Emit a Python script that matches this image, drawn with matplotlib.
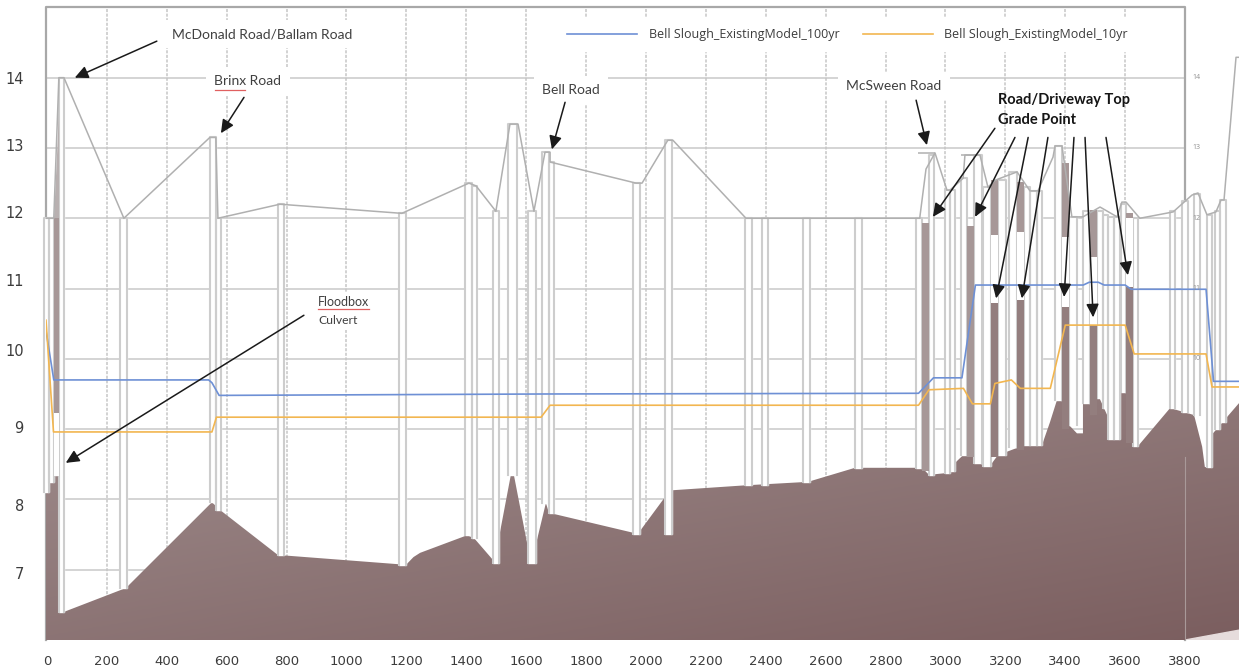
import numpy as np
import matplotlib
matplotlib.use("Agg")
import matplotlib.pyplot as plt

# ground profile (station, elevation)
ground_x = [-3, 7, 7, 23, 23, 40, 40, 57, 264, 551, 578, 771, 1199, 1224, 1246, 1403, 1426, 1489, 1489, 1509, 1509,
            1549, 1559, 1603, 1606, 1633, 1636, 1666, 1676, 1973, 2063, 2063, 2087, 2087, 2330, 2541, 2698, 2922,
            2945, 3015, 3032, 3059, 3095, 3095, 3149, 3175, 3262, 3322, 3349, 3372, 3412, 3412, 3439, 3459, 3459,
            3509, 3543, 3563, 3583, 3586, 3603, 3626, 3643, 3750, 3830, 3857, 3866, 3890, 3893, 3980]
ground_z = [8.1, 8.1, 8.25, 8.25, 8.33, 8.33, 6.4, 6.4, 6.74, 7.96, 7.85, 7.21, 7.07, 7.18, 7.24, 7.49, 7.45, 7.14, 7.1, 7.1, 7.45,
            8.35, 8.35, 7.38, 7.1, 7.1, 7.42, 7.95, 7.81, 7.51, 8.03, 7.51, 7.51, 8.13, 8.2, 8.25, 8.45, 8.45,
            8.35, 8.38, 8.52, 8.63, 8.63, 8.52, 8.48, 8.63, 8.77, 8.77, 9.1, 9.41, 9.41, 9.06, 8.94, 8.94, 9.37,
            9.49, 9.17, 8.86, 8.86, 9.53, 9.53, 8.76, 8.76, 9.3, 9.2, 8.75, 8.46, 8.46, 8.94, 9.37]

# road top line
road_x = [-3, 23, 40, 57, 257, 544, 564, 571, 778, 1185, 1409, 1433, 1499, 1546, 1573, 1626, 1663, 1680, 1680, 1967, 1987,
          2073, 2090, 2334, 2914, 2935, 2965, 3005, 3015, 3059, 3065, 3115, 3142, 3165, 3239, 3282, 3309, 3359, 3366,
          3389, 3422, 3459, 3516, 3573, 3589, 3603, 3649, 3760, 3823, 3843, 3873, 3903, 3920, 3930, 3970, 3980]
road_z = [12, 12, 14, 14, 12, 13.15, 13.15, 12, 12.2, 12.07, 12.5, 12.46, 12.1, 13.34, 13.34, 12.1, 12.94, 12.94, 12.8, 12.5, 12.5,
          13.11, 13.11, 12, 12, 12.7, 12.93, 12.4, 12.4, 12.57, 12.9, 12.9, 12.44, 12.54, 12.66, 12.39, 12.39, 12.87, 13.03,
          13.03, 12.02, 12.02, 12.16, 12.02, 12.23, 12.23, 12, 12.09, 12.33, 12.36, 12.05, 12.09, 12.26, 12.26, 14.29, 14.29]

# water surfaces
blue_x = [-3, 23, 540, 551, 575, 1660, 2910, 2960, 3055, 3100, 3460, 3480, 3510, 3530, 3600, 3620, 3870, 3895, 3980]
blue_z = [10.4, 9.7, 9.7, 9.66, 9.48, 9.5, 9.51, 9.73, 9.73, 11.05, 11.05, 11.09, 11.09, 11.05, 11.05, 10.99, 10.99, 9.68, 9.68]
orange_x = [-3, 22, 551, 566, 1650, 1680, 2910, 2945, 3060, 3090, 3150, 3165, 3220, 3250, 3350, 3400, 3600, 3630, 3870, 3890, 3980]
orange_z = [10.55, 8.96, 8.96, 9.17, 9.17, 9.34, 9.34, 9.56, 9.58, 9.36, 9.36, 9.65, 9.7, 9.58, 9.58, 10.48, 10.48, 10.07, 10.07, 9.6, 9.6]

# white cross section strips
strip_left = [-10, 7, 40, 244, 544, 564, 771, 1175, 1396, 1419, 1489, 1539, 1606, 1653, 1676, 1957, 2063, 2330, 2387, 2524, 2698,
              2902, 2945, 2998, 3015, 3052, 3095, 3125, 3175, 3212, 3262, 3282, 3306, 3365, 3412, 3459, 3506, 3526, 3543, 3563,
              3586, 3626, 3750, 3790, 3830, 3873, 3900, 3915]
strip_right = [7, 23, 57, 267, 564, 581, 791, 1199, 1419, 1436, 1509, 1569, 1633, 1676, 1693, 1980, 2087, 2354, 2407, 2548, 2721,
               2922, 2962, 3015, 3032, 3072, 3122, 3152, 3202, 3239, 3282, 3306, 3322, 3389, 3439, 3483, 3526, 3543, 3563, 3583,
               3603, 3643, 3766, 3810, 3850, 3890, 3915, 3935]
strip_bottom = [8.1, 8.25, 6.4, 6.74, 7.96, 7.85, 7.21, 7.07, 7.49, 7.45, 7.1, 8.35, 7.1, 7.95, 7.81, 7.51, 7.51, 8.2, 8.2, 8.25, 8.45,
                8.45, 8.35, 8.38, 8.4, 8.63, 8.52, 8.48, 8.63, 8.75, 8.77, 8.77, 8.77, 9.41, 9.06, 9.37, 9.45, 9.3, 8.86, 8.86,
                9.53, 8.76, 9.3, 9.25, 9.2, 8.46, 9.0, 9.1]
strip_top = [12, 12, 14, 12, 13.15, 12, 12.2, 12.07, 12.5, 12.46, 12.1, 13.34, 12.1, 12.94, 12.8, 12.5, 13.11, 12, 12, 12, 12,
             12, 12.9, 12.4, 12.4, 12.57, 12.9, 12.44, 12.54, 12.66, 12.45, 12.39, 12.39, 13.03, 12.02, 12.1, 12.1, 12.05, 12.02, 12.02,
             12.2, 12, 12.1, 12.25, 12.35, 12.05, 12.1, 12.26]

# road/driveway columns, brown part on top and brown part down to the ground
col_left = [23, 2922, 3072, 3152, 3239, 3389, 3483, 3603]
col_right = [40, 2945, 3095, 3175, 3262, 3412, 3506, 3626]
col_top = [12.0, 11.93, 11.89, 12.54, 12.51, 12.79, 12.12, 12.07]
col_gap_top = [9.23, 8.4, 8.6, 11.76, 11.8, 11.73, 11.45, 12.0]
col_gap_bottom = [8.33, 8.4, 8.6, 10.79, 10.84, 10.74, 10.48, 11.02]
col_ground = [8.33, 8.4, 8.6, 8.6, 8.7, 9.0, 9.2, 8.8]

ytick_pos = [14.0, 13.04, 12.09, 11.12, 10.12, 9.03, 7.92, 6.95]
ytick_labels = ["14", "13", "12", "11", "10", "9", "8", "7"]
xticks = list(range(0, 3801, 200))
grid_y = [7, 8, 9, 10, 11, 12, 13, 14]

fig = plt.figure(figsize=(12.39, 6.68), dpi=100)
ax = fig.add_axes([46 / 1239, 28 / 668, 1193 / 1239, 634 / 668])
plt.rcParams['font.family'] = ['Open Sans', 'DejaVu Sans']

# grid only runs up to the 3800 station
ax.hlines(grid_y, 0, 3800, color="#c9c9c9", lw=1.1, zorder=1)
ax.vlines(xticks[1:], 6, 15, color="#c6c6c6", lw=1.1, ls=(0, (2, 1)), zorder=1)
ax.plot([-3, -3, 3800, 3800], [6, 15.0, 15.0, 6], color="#a8a8a8", lw=1.6, zorder=1, clip_on=False)

# ground with soft gradient, lighter at the top left
xx, yy = np.meshgrid(np.linspace(0, 1, 200), np.linspace(0, 1, 200))
grad = 0.55 * yy + 0.45 * xx
cmap = matplotlib.colors.LinearSegmentedColormap.from_list("soil", ["#a08e8e", "#7b5e5f"])
poly = ax.fill_between(ground_x, ground_z, 6, color="none", zorder=2)
im = ax.imshow(grad, extent=[-3, 3980, 6, 9.6], aspect="auto", cmap=cmap, zorder=2, interpolation="bilinear")
im.set_clip_path(poly.get_paths()[0], transform=ax.transData)
ax.fill([3800, 3980, 3980], [6, 6.14, 6], color="#e6dcdc", zorder=2.2)
ax.plot([3800, 3800], [6, 8.6], color="#a99999", lw=0.8, zorder=2.2)

for x0, x1, b, t in zip(strip_left, strip_right, strip_bottom, strip_top):
    ax.fill([x0, x1, x1, x0], [b, b, t, t], color="white", zorder=3, clip_on=False)
    ax.plot([x0, x0, x1, x1], [b, t, t, b], color="#cdcdcd", lw=1.5, zorder=3.1, clip_on=False)

for x0, x1, t, g1, g2, g in zip(col_left, col_right, col_top, col_gap_top, col_gap_bottom, col_ground):
    ax.fill([x0, x1, x1, x0], [g1, g1, t, t], color="#a69797", zorder=3.3, lw=0)
    ax.fill([x0, x1, x1, x0], [g2, g2, g1, g1], color="white", zorder=3.2, lw=0)
    ax.fill([x0, x1, x1, x0], [g, g, g2, g2], color="#937e7e", zorder=3.3, lw=0)
ax.fill([23, 40, 40], [12, 12, 13.5], color="#b8b0b0", zorder=3.3, lw=0)

ax.plot(road_x, road_z, color="#b0b0b0", lw=1.1, zorder=4)
ax.hlines([12.93, 12.9], [2908, 3052], [2965, 3105], color="#b0b0b0", lw=1.1, zorder=4)

ax.plot(blue_x, blue_z, color="#6e90d5", lw=1.2, zorder=5, label="Bell Slough_ExistingModel_100yr")
ax.plot(orange_x, orange_z, color="#f2b650", lw=1.2, zorder=5, label="Bell Slough_ExistingModel_10yr")

leg = ax.legend(loc="center", bbox_to_anchor=(0.672, 0.955), ncol=2, frameon=True, framealpha=1, edgecolor="white",
                fontsize=9, handlelength=5.6, columnspacing=1.9, handletextpad=0.9, borderpad=0.8)
leg.set_zorder(6)
for t in leg.get_texts():
    t.set_color("#3c3c3c")

labels = [("McDonald Road/Ballam Road", 718, 14.62), ("Brinx Road", 671, 13.95), ("Bell Road", 1750, 13.82), ("McSween Road", 2828, 13.88)]
for txt, x, y in labels:
    ax.text(x, y, txt, fontsize=10, color="#404040", ha="center", va="center", zorder=6, family="Lato",
            bbox=dict(fc="white", ec="none", pad=6))
ax.text(905, 10.81, "Floodbox", fontsize=9, color="#404040", va="center", zorder=6, family="Lato", bbox=dict(fc="white", ec="none", pad=3))
ax.text(905, 10.55, "Culvert", fontsize=8.7, color="#404040", va="center", zorder=6, family="Lato", bbox=dict(fc="white", ec="none", pad=3))
ax.plot([905, 1075], [10.71, 10.71], color="#e06060", lw=0.9, zorder=7)
ax.plot([562, 660], [13.83, 13.83], color="#e06060", lw=0.9, zorder=7)
ax.text(3175, 13.68, "Road/Driveway Top", fontsize=10.5, fontweight="bold", color="#151515", va="center", zorder=7, family="Lato")
ax.text(3175, 13.4, "Grade Point", fontsize=10.5, fontweight="bold", color="#151515", va="center", zorder=7, family="Lato")

arrow_from = [(367, 14.52), (658, 13.72), (1730, 13.65), (2902, 13.68), (858, 10.62), (3165, 13.28), (3232, 13.15),
              (3276, 13.15), (3342, 13.15), (3429, 13.15), (3466, 13.15), (3536, 13.15)]
arrow_to = [(93, 14.0), (581, 13.21), (1686, 12.98), (2938, 13.04), (63, 8.52), (2958, 12.02), (3099, 12.02),
            (3169, 10.86), (3255, 10.86), (3396, 10.88), (3493, 10.59), (3609, 11.19)]
for a, b in zip(arrow_from, arrow_to):
    ax.annotate("", xy=b, xytext=a, zorder=8,
                arrowprops=dict(arrowstyle="-|>,head_width=0.38,head_length=0.8", color="#1a1a1a", lw=1.1, shrinkA=0, shrinkB=0))

for v in [14, 13, 12, 11, 10]:
    ax.text(3825, v, str(v), fontsize=5, color="#909090", va="center", zorder=5)

ax.set_xlim(-3, 3980)
ax.set_ylim(6, 15.02)
ax.set_xticks(xticks)
ax.set_xticklabels([str(v) for v in xticks], fontsize=9.5, color="#3c3c3c")
ax.set_yticks(ytick_pos)
ax.set_yticklabels(ytick_labels, fontsize=10.5, color="#3c3c3c")
ax.tick_params(length=0)
ax.tick_params(axis="x", pad=11)
ax.tick_params(axis="y", pad=16)
for s in ax.spines.values():
    s.set_visible(False)

fig.savefig("out.png", dpi=100)
